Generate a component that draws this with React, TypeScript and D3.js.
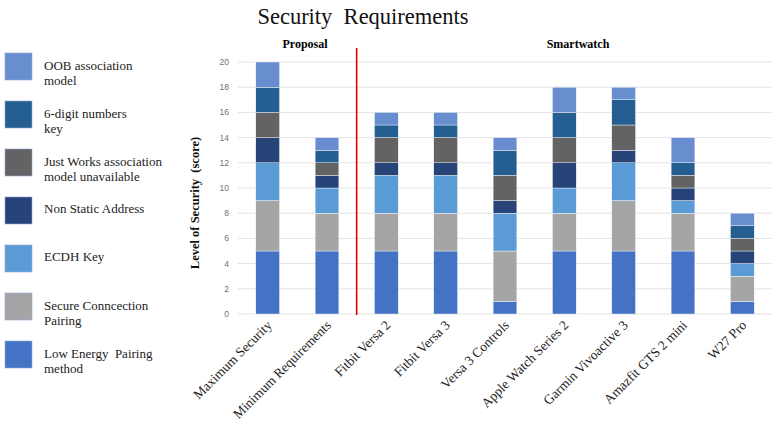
import React from "react";
import * as d3 from "d3";

const devices = [
  "Maximum Security",
  "Minimum Requirements",
  "Fitbit Versa 2",
  "Fitbit Versa 3",
  "Versa 3 Controls",
  "Apple Watch Series 2",
  "Garmin Vivoactive 3",
  "Amazfit GTS 2 mini",
  "W27 Pro",
];

// stacking order, bottom to top
const requirements = [
  "Low Energy Pairing method",
  "Secure Conncection Pairing",
  "ECDH Key",
  "Non Static Address",
  "Just Works association model unavailable",
  "6-digit numbers key",
  "OOB association model",
];

const lowEnergy = [5, 5, 5, 5, 1, 5, 5, 5, 1];
const secureConn = [4, 3, 3, 3, 4, 3, 4, 3, 2];
const ecdh = [3, 2, 3, 3, 3, 2, 3, 1, 1];
const nonStatic = [2, 1, 1, 1, 1, 2, 1, 1, 1];
const justWorks = [2, 1, 2, 2, 2, 2, 2, 1, 1];
const sixDigit = [2, 1, 1, 1, 2, 2, 2, 1, 1];
const oob = [2, 1, 1, 1, 1, 2, 1, 2, 1];

const yTicks = [0, 2, 4, 6, 8, 10, 12, 14, 16, 18, 20];

const colors = ["#4472c4", "#a5a5a5", "#5b9bd5", "#264478", "#636363", "#255e91", "#698ed0"];

// legend, top to bottom
const legendItems = [
  { lines: ["OOB association", "model"], color: colors[6] },
  { lines: ["6-digit numbers", "key"], color: colors[5] },
  { lines: ["Just Works association", "model unavailable"], color: colors[4] },
  { lines: ["Non Static Address"], color: colors[3] },
  { lines: ["ECDH Key"], color: colors[2] },
  { lines: ["Secure Conncection", "Pairing"], color: colors[1] },
  { lines: ["Low Energy  Pairing", "method"], color: colors[0] },
];

const W = 776;
const H = 427;
const serif = "'Liberation Serif', 'Times New Roman', serif";

export default function App() {
  const series = [lowEnergy, secureConn, ecdh, nonStatic, justWorks, sixDigit, oob];
  const rows = devices.map((d, i) => {
    const r: any = { device: d };
    requirements.forEach((k, j) => (r[k] = series[j][i]));
    return r;
  });
  const stacked = d3.stack().keys(requirements)(rows);

  const x = d3.scaleBand().domain(devices).range([238, 772]).paddingInner(0.6).paddingOuter(0.3);
  const y = d3.scaleLinear().domain([0, 20]).range([314, 62]);
  const sepX = ((x("Minimum Requirements") as number) + (x("Fitbit Versa 2") as number) + x.bandwidth()) / 2;

  return (
    <svg width={W} height={H} style={{ position: "absolute", left: 0, top: 0, background: "#fff" }}>
      <text x={363} y={24} textAnchor="middle" fontFamily={serif} fontSize={22.5} fill="#111" style={{ whiteSpace: "pre" }}>
        Security  Requirements
      </text>
      <text x={305} y={48} textAnchor="middle" fontFamily={serif} fontSize={12} fontWeight="bold">
        Proposal
      </text>
      <text x={578} y={48} textAnchor="middle" fontFamily={serif} fontSize={12} fontWeight="bold">
        Smartwatch
      </text>

      {yTicks.map((t) => (
        <g key={t}>
          <line x1={238} x2={772} y1={y(t)} y2={y(t)} stroke="#e3e3e3" strokeWidth={1} />
          <text x={229} y={y(t) + 3} textAnchor="end" fontFamily="'Liberation Sans', Arial, sans-serif" fontSize={8.5} fill="#707070">
            {t}
          </text>
        </g>
      ))}

      {stacked.map((s, j) => (
        <g key={s.key} fill={colors[j]}>
          {s.map((d, i) => (
            <rect
              key={i}
              x={x(devices[i])}
              y={y(d[1])}
              width={x.bandwidth()}
              height={y(d[0]) - y(d[1])}
              stroke="#fff"
              strokeWidth={0.4}
            />
          ))}
        </g>
      ))}

      <line x1={sepX} x2={sepX} y1={48} y2={315} stroke="#e00000" strokeWidth={1.6} />

      {devices.map((d) => {
        const cx = (x(d) as number) + x.bandwidth() / 2 + 5;
        return (
          <text
            key={d}
            transform={`translate(${cx},${326}) rotate(-45)`}
            textAnchor="end"
            fontFamily={serif}
            fontSize={13.5}
            fill="#222"
          >
            {d}
          </text>
        );
      })}

      <text
        transform={`translate(199,203) rotate(-90)`}
        textAnchor="middle"
        fontFamily={serif}
        fontSize={12.5}
        fontWeight="bold"
        fill="#111"
        style={{ whiteSpace: "pre" }}
      >
        Level of Security  (score)
      </text>

      {legendItems.map((it, i) => {
        const top = 53 + i * 48;
        return (
          <g key={i}>
            <rect x={5} y={top} width={27} height={27} fill={it.color} stroke="#8faadc" strokeWidth={0.6} />
            {it.lines.map((ln, k) => (
              <text
                key={k}
                x={44}
                y={it.lines.length === 1 ? top + 16 : top + 17 + k * 15}
                fontFamily={serif}
                fontSize={13}
                fill="#222"
                style={{ whiteSpace: "pre" }}
              >
                {ln}
              </text>
            ))}
          </g>
        );
      })}
    </svg>
  );
}
